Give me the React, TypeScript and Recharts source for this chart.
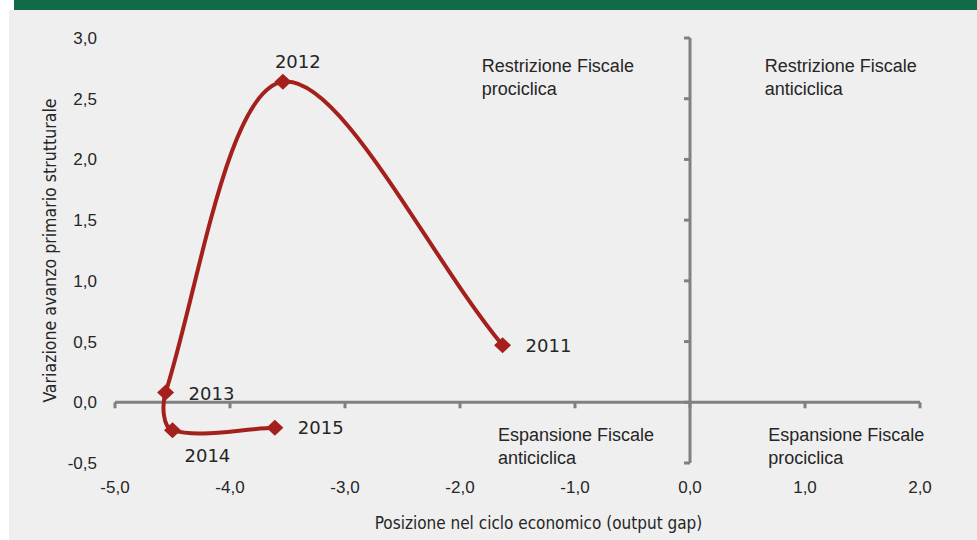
import React from 'react';
import { ScatterChart, Scatter, XAxis, YAxis, ReferenceLine, ReferenceDot, Label } from 'recharts';

// ---- data ----
const years = ['2011', '2012', '2013', '2014', '2015'];
const outputGap = [-1.63, -3.54, -4.56, -4.5, -3.61];
const primaryBalanceChange = [0.47, 2.64, 0.08, -0.23, -0.21];
const xTicks = [-5, -4, -3, -2, -1, 0, 1, 2];
const yTicks = [-0.5, 0, 0.5, 1, 1.5, 2, 2.5, 3];
const quadrantTexts = [
  { x: -1.81, y: 2.72, lines: ['Restrizione Fiscale', 'prociclica'] },
  { x: 0.65, y: 2.72, lines: ['Restrizione Fiscale', 'anticiclica'] },
  { x: -1.67, y: -0.32, lines: ['Espansione Fiscale', 'anticiclica'] },
  { x: 0.68, y: -0.32, lines: ['Espansione Fiscale', 'prociclica'] },
];
const xTitle = 'Posizione nel ciclo economico (output gap)';
const yTitle = 'Variazione avanzo primario strutturale';

const data = years.map((year, i) => ({ year, x: outputGap[i], y: primaryBalanceChange[i] }));

// ---- styles ----
const RED = '#a3201c';
const AXIS_GRAY = '#808080';
const TEXT = '#262626';
const SANS = "'Liberation Sans', Arial, sans-serif";
const NARROW = "'Liberation Sans Narrow', 'DejaVu Sans Condensed', 'Liberation Sans', sans-serif";
const YEAR_FONT = "'DejaVu Sans', Verdana, sans-serif";
const labelOffset: Record<string, [number, number]> = {
  '2011': [23, 0],
  '2012': [-8, -20],
  '2013': [23, 1],
  '2014': [12, 25],
  '2015': [23, 0],
};

// Excel-like smoothed line: cubic Bezier with chord-length weighted tangents
function excelCurve(context: any) {
  let pts: number[][] = [];
  const dist = (a: number[], b: number[]) => Math.hypot(b[0] - a[0], b[1] - a[1]);
  return {
    areaStart() {},
    areaEnd() {},
    lineStart() {
      pts = [];
    },
    lineEnd() {
      const n = pts.length;
      if (!n) return;
      context.moveTo(pts[0][0], pts[0][1]);
      const tangent = (i: number) => {
        const a = pts[Math.max(i - 1, 0)];
        const b = pts[Math.min(i + 1, n - 1)];
        const d = dist(a, pts[i]) + dist(pts[i], b) || 1;
        return [(b[0] - a[0]) / d, (b[1] - a[1]) / d];
      };
      for (let i = 0; i < n - 1; i++) {
        const p1 = pts[i];
        const p2 = pts[i + 1];
        const seg = dist(p1, p2) / 3;
        const t1 = tangent(i);
        const t2 = tangent(i + 1);
        context.bezierCurveTo(
          p1[0] + t1[0] * seg,
          p1[1] + t1[1] * seg,
          p2[0] - t2[0] * seg,
          p2[1] - t2[1] * seg,
          p2[0],
          p2[1]
        );
      }
    },
    point(x: number, y: number) {
      pts.push([+x, +y]);
    },
  };
}

const DiamondWithLabel = (props: any) => {
  const { cx, cy, payload } = props;
  if (cx == null || cy == null) return null;
  const off = labelOffset[payload.year] || [20, 0];
  return (
    <g>
      <polygon
        points={`${cx},${cy - 8} ${cx + 8.5},${cy} ${cx},${cy + 8} ${cx - 8.5},${cy}`}
        fill={RED}
      />
      <text
        x={cx + off[0]}
        y={cy + off[1]}
        dominantBaseline="central"
        textAnchor="start"
        fontFamily={YEAR_FONT}
        fontSize={18}
        fill={TEXT}
      >
        {payload.year}
      </text>
    </g>
  );
};

const fmt = (v: number) => v.toFixed(1).replace('.', ',');

export default function App() {
  return (
    <div style={{ position: 'absolute', left: 0, top: 0, width: 977, height: 540, background: '#ffffff', overflow: 'hidden' }}>
      <div style={{ position: 'absolute', left: 9, top: 10, width: 968, height: 530, background: '#efefef' }} />
      <div style={{ position: 'absolute', left: 14, top: 0, width: 963, height: 10, background: '#116b48' }} />
      <div style={{ position: 'absolute', left: 0, top: 0 }}>
        <ScatterChart width={977} height={540} margin={{ top: 38, right: 57, bottom: 17, left: 0 }}>
          <XAxis
            type="number"
            dataKey="x"
            domain={[-5, 2]}
            ticks={xTicks}
            tickFormatter={fmt}
            axisLine={false}
            tickLine={false}
            tickMargin={12}
            height={60}
            tick={{ fontFamily: SANS, fontSize: 17, fill: TEXT }}
            allowDataOverflow
          >
            <Label
              content={(p: any) => {
                const vb = p.viewBox;
                return (
                  <text
                    x={vb.x + vb.width / 2 + 21}
                    y={vb.y + 66}
                    textAnchor="middle"
                    fontFamily={NARROW}
                    fontSize={17}
                    fill={TEXT}
                  >
                    {xTitle}
                  </text>
                );
              }}
            />
          </XAxis>
          <YAxis
            type="number"
            dataKey="y"
            domain={[-0.5, 3]}
            ticks={yTicks}
            tickFormatter={fmt}
            axisLine={false}
            tickLine={false}
            tickMargin={12}
            width={115}
            tick={{ fontFamily: SANS, fontSize: 17, fill: TEXT }}
            allowDataOverflow
          >
            <Label
              content={(p: any) => {
                const vb = p.viewBox;
                const cx = vb.x + 50;
                const cy = vb.y + vb.height / 2;
                return (
                  <text
                    x={cx}
                    y={cy}
                    transform={`rotate(-90, ${cx}, ${cy})`}
                    textAnchor="middle"
                    dominantBaseline="central"
                    fontFamily={NARROW}
                    fontSize={17.6}
                    fill={TEXT}
                  >
                    {yTitle}
                  </text>
                );
              }}
            />
          </YAxis>
          <ReferenceLine y={0} stroke={AXIS_GRAY} strokeWidth={3} />
          <ReferenceLine x={0} stroke={AXIS_GRAY} strokeWidth={3} />
          {xTicks.map((t) => (
            <ReferenceDot
              key={'xt' + t}
              x={t}
              y={0}
              r={0}
              shape={(p: any) => (
                <line x1={p.cx} x2={p.cx} y1={p.cy} y2={p.cy + 6} stroke={AXIS_GRAY} strokeWidth={3} />
              )}
            />
          ))}
          {yTicks.map((t) => (
            <ReferenceDot
              key={'yt' + t}
              x={0}
              y={t}
              r={0}
              shape={(p: any) => (
                <line x1={p.cx - 6} x2={p.cx} y1={p.cy} y2={p.cy} stroke={AXIS_GRAY} strokeWidth={3} />
              )}
            />
          ))}
          {quadrantTexts.map((q, i) => (
            <ReferenceDot
              key={'q' + i}
              x={q.x}
              y={q.y}
              r={0}
              shape={(p: any) => (
                <text x={p.cx} y={p.cy} fontFamily={SANS} fontSize={18} fill={TEXT}>
                  {q.lines.map((l, j) => (
                    <tspan key={j} x={p.cx} dy={j === 0 ? 0 : 23}>
                      {l}
                    </tspan>
                  ))}
                </text>
              )}
            />
          ))}
          <Scatter
            data={data}
            line={{ stroke: RED, strokeWidth: 4 }}
            lineType="joint"
            lineJointType={excelCurve as any}
            shape={DiamondWithLabel}
            fill={RED}
            isAnimationActive={false}
          />
        </ScatterChart>
      </div>
    </div>
  );
}
